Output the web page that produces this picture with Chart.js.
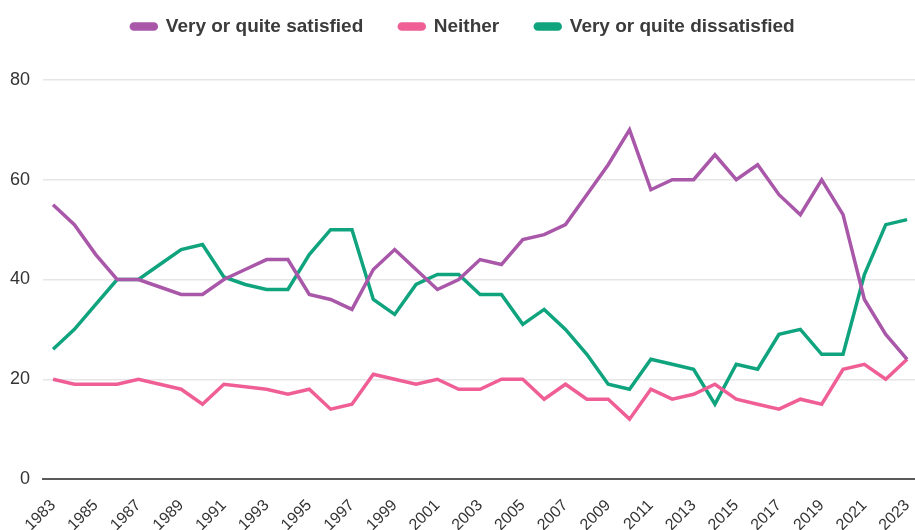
<!DOCTYPE html>
<html>
<head>
<meta charset="utf-8">
<script src="https://cdn.jsdelivr.net/npm/chart.js@4"></script>
<style>
  html, body { margin: 0; padding: 0; background: #fff; }
  #wrap { width: 915px; height: 530px; }
</style>
</head>
<body>
<div id="wrap"><canvas id="chart"></canvas></div>
<script>
const years = [];
for (let y = 1983; y <= 2023; y++) years.push(y);

// valori (%)
const satisfied = [55, 51, 45, 40, 40, 38.5, 37, 37, 40, 42, 44, 44, 37, 36, 34, 42, 46, 42, 38, 40,
  44, 43, 48, 49, 51, 57, 63, 70, 58, 60, 60, 65, 60, 63, 57, 53, 60, 53, 36, 29, 24];
const neither = [20, 19, 19, 19, 20, 19, 18, 15, 19, 18.5, 18, 17, 18, 14, 15, 21, 20, 19, 20, 18,
  18, 20, 20, 16, 19, 16, 16, 12, 18, 16, 17, 19, 16, 15, 14, 16, 15, 22, 23, 20, 24];
const dissatisfied = [26, 30, 35, 40, 40, 43, 46, 47, 40.5, 39, 38, 38, 45, 50, 50, 36, 33, 39, 41, 41,
  37, 37, 31, 34, 30, 25, 19, 18, 24, 23, 22, 15, 23, 22, 29, 30, 25, 25, 41, 51, 52];
const tickYears = years.filter(y => y % 2 === 1);

const colPurple = '#a957a9';
const colPink = '#ef5f95';
const colGreen = '#10a47e';

function series(label, values, color) {
  return {
    label: label,
    data: values.map((v, i) => ({ x: years[i], y: v })),
    borderColor: color,
    backgroundColor: color,
    borderWidth: 3.5,
    pointRadius: 0,
    tension: 0,
    fill: false
  };
}

// la legenda occupa piu' spazio in alto, il grafico parte piu' in basso
const legendSpace = {
  id: 'legendSpace',
  afterInit(chart) {
    const fit = chart.legend.fit;
    chart.legend.fit = function () {
      fit.call(this);
      this.height = 99;
    };
  },
  beforeDraw(chart) {
    // piccolo spostamento a destra per centrare la legenda come nell'originale
    chart.legend.left += 7;
    chart.legend.right += 7;
  }
};

new Chart(document.getElementById('chart'), {
  type: 'line',
  data: {
    datasets: [
      series('Very or quite satisfied', satisfied, colPurple),
      series('Neither', neither, colPink),
      series('Very or quite dissatisfied', dissatisfied, colGreen)
    ]
  },
  plugins: [legendSpace],
  options: {
    responsive: true,
    maintainAspectRatio: false,
    animation: false,
    layout: { padding: { left: -3, right: 0, top: -19, bottom: 0 } },
    plugins: {
      tooltip: { enabled: false },
      legend: {
        position: 'top',
        labels: {
          boxWidth: 25,
          boxHeight: 5,
          useBorderRadius: true,
          borderRadius: 2.5,
          padding: 36,
          color: '#3b3b3b',
          font: { family: '"Liberation Sans", Arial, sans-serif', size: 19, weight: 'bold' }
        }
      }
    },
    scales: {
      x: {
        type: 'linear',
        min: 1982.53,
        max: 2023.37,
        afterBuildTicks: axis => { axis.ticks = tickYears.map(v => ({ value: v })); },
        afterFit: axis => {
          axis.height = 51;
          axis.paddingLeft = 0;
          axis.paddingRight = 0;
        },
        ticks: {
          autoSkip: false,
          maxRotation: 45,
          minRotation: 45,
          padding: 9,
          color: '#333',
          font: { family: '"Liberation Sans", Arial, sans-serif', size: 16 },
          callback: v => String(v)
        },
        grid: { display: false },
        border: { display: true, color: '#5a5a5a', width: 2 }
      },
      y: {
        min: 0,
        max: 80,
        ticks: {
          stepSize: 20,
          padding: 13,
          color: '#333',
          font: { family: '"Liberation Sans", Arial, sans-serif', size: 18 }
        },
        grid: { color: '#e6e6e6', lineWidth: 1.5, drawTicks: false },
        border: { display: false }
      }
    }
  }
});
</script>
</body>
</html>
